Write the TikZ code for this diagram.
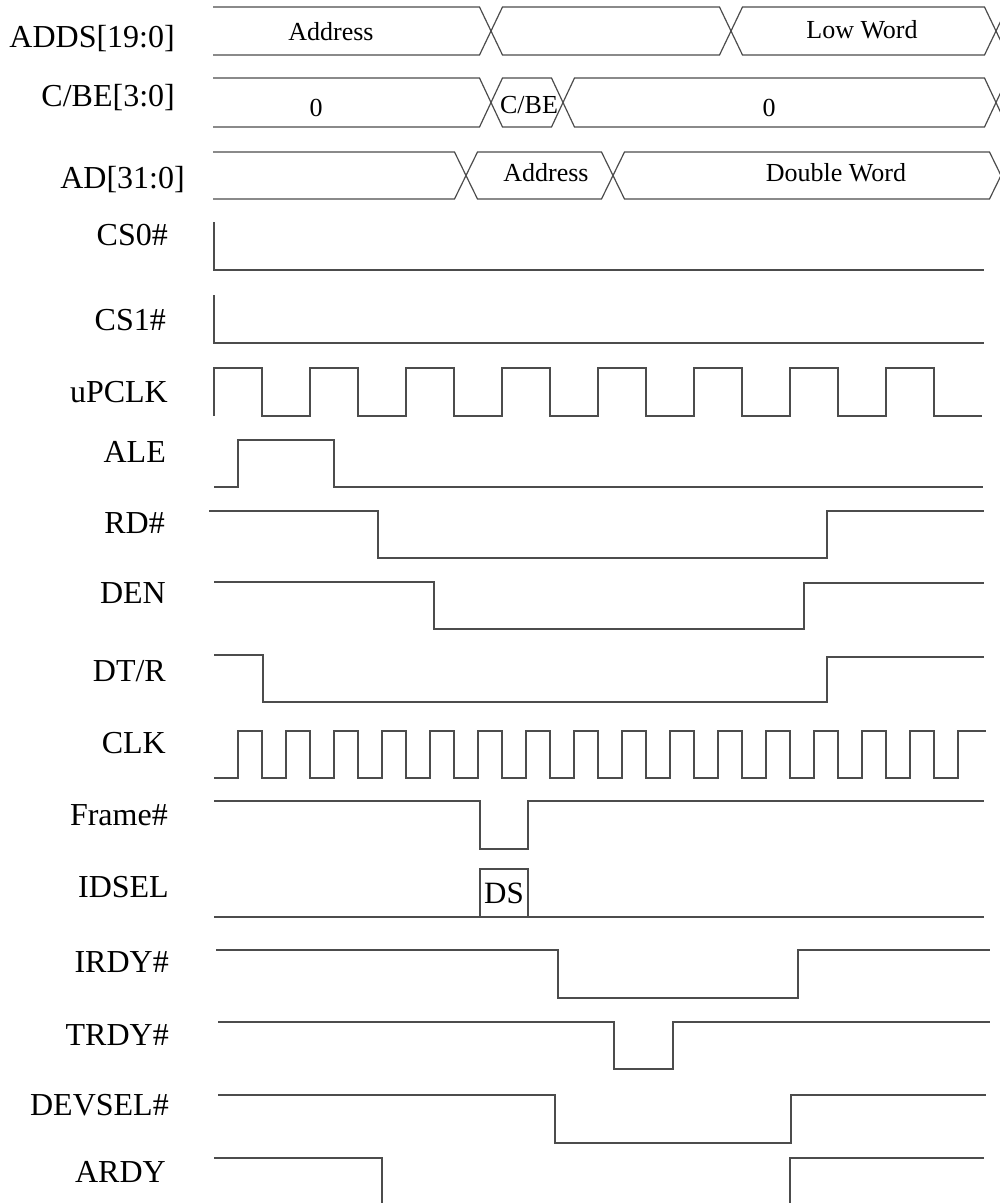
\documentclass[tikz,border=0pt]{standalone}
\usepackage{fontspec}
\setmainfont{Liberation Serif}
\begin{document}
\begin{tikzpicture}[x=1pt,y=-1pt,
  sig/.style={draw=black!70, line width=1.2pt, line join=miter},
  lbl/.style={anchor=base east, inner sep=0pt, font=\fontsize{32}{36}\selectfont},
  btxt/.style={anchor=base, inner sep=0pt, font=\fontsize{26}{30}\selectfont}]
\useasboundingbox (0,0) rectangle (1000,1203);
\clip (0,0) rectangle (1000,1203);

% ---- labels ----
\node[lbl] (lADDS) at (175,47)  {ADDS[19:0]};
\node[lbl] (lCBE)  at (175,106) {C/BE[3:0]};
\node[lbl] (lAD)   at (185,188) {AD[31:0]};
\node[lbl] (lCS0)  at (168,245) {CS0\#};
\node[lbl] (lCS1)  at (166,330) {CS1\#};
\node[lbl] (lUP)   at (168,402) {uPCLK};
\node[lbl] (lALE)  at (166,462) {ALE};
\node[lbl] (lRD)   at (165,533) {RD\#};
\node[lbl] (lDEN)  at (166,603) {DEN};
\node[lbl] (lDTR)  at (166,681) {DT/R};
\node[lbl] (lCLK)  at (166,753) {CLK};
\node[lbl] (lFR)   at (168,825) {Frame\#};
\node[lbl] (lID)   at (169,897) {IDSEL};
\node[lbl] (lIR)   at (169,972) {IRDY\#};
\node[lbl] (lTR)   at (169,1045) {TRDY\#};
\node[lbl] (lDEV)  at (169,1115) {DEVSEL\#};
\node[lbl] (lAR)   at (166,1182) {ARDY};

% ---- bus ADDS[19:0] ----
\draw[sig] (213,7) -- (479.5,7) -- (502.5,55) -- (719.5,55) -- (742.5,7) -- (984.5,7) -- (1007.5,55);
\draw[sig] (213,55) -- (479.5,55) -- (502.5,7) -- (719.5,7) -- (742.5,55) -- (984.5,55) -- (1007.5,7);
\node[btxt] (tA1) at (331,40) {Address};
\node[btxt] (tA2) at (862,38) {Low Word};

% ---- bus C/BE[3:0] ----
\draw[sig] (213,78) -- (479.5,78) -- (502.5,127) -- (551.5,127) -- (574.5,78) -- (984.5,78) -- (1007.5,127);
\draw[sig] (213,127) -- (479.5,127) -- (502.5,78) -- (551.5,78) -- (574.5,127) -- (984.5,127) -- (1007.5,78);
\node[btxt] (tC1) at (316,116) {0};
\node[btxt] (tC2) at (529,113) {C/BE};
\node[btxt] (tC3) at (769,116) {0};

% ---- bus AD[31:0] ----
\draw[sig] (213,152) -- (454.5,152) -- (477.5,199) -- (601.5,199) -- (624.5,152) -- (989.5,152) -- (1012.5,199);
\draw[sig] (213,199) -- (454.5,199) -- (477.5,152) -- (601.5,152) -- (624.5,199) -- (989.5,199) -- (1012.5,152);
\node[btxt] (tD1) at (546,181) {Address};
\node[btxt] (tD2) at (836,181) {Double Word};

% ---- CS0#, CS1# ----
\draw[sig] (214,222) -- (214,270) -- (984,270);
\draw[sig] (214,295) -- (214,343) -- (984,343);

% ---- uPCLK ----
\draw[sig] (214,416) -- (214,368)
  foreach \k in {1,...,7} { -- ++(48,0) -- ++(0,48) -- ++(48,0) -- ++(0,-48) }
  -- ++(48,0) -- ++(0,48) -- ++(48,0);

% ---- ALE ----
\draw[sig] (214,487) -- (238,487) -- (238,440) -- (334,440) -- (334,487) -- (983,487);

% ---- RD# ----
\draw[sig] (209,511) -- (378,511) -- (378,558) -- (827,558) -- (827,511) -- (984,511);

% ---- DEN ----
\draw[sig] (214,582) -- (434,582) -- (434,629) -- (804,629) -- (804,583) -- (984,583);

% ---- DT/R ----
\draw[sig] (214,655) -- (263,655) -- (263,702) -- (827,702) -- (827,657) -- (984,657);

% ---- CLK ----
\draw[sig] (214,778) -- ++(24,0)
  foreach \k in {1,...,15} { -- ++(0,-47) -- ++(24,0) -- ++(0,47) -- ++(24,0) }
  -- ++(0,-47) -- ++(28,0);

% ---- Frame# ----
\draw[sig] (214,801) -- (480,801) -- (480,849) -- (528,849) -- (528,801) -- (984,801);

% ---- IDSEL ----
\draw[sig] (214,917) -- (984,917);
\draw[sig] (480,917) -- (480,869) -- (528,869) -- (528,917);
\node[anchor=base, inner sep=0pt, font=\fontsize{31}{34}\selectfont] (tDS) at (504,903) {DS};

% ---- IRDY# ----
\draw[sig] (216,950) -- (558,950) -- (558,998) -- (798,998) -- (798,950) -- (990,950);

% ---- TRDY# ----
\draw[sig] (218,1022) -- (614,1022) -- (614,1069) -- (673,1069) -- (673,1022) -- (990,1022);

% ---- DEVSEL# ----
\draw[sig] (218,1095) -- (555,1095) -- (555,1143) -- (791,1143) -- (791,1095) -- (986,1095);

% ---- ARDY ----
\draw[sig] (214,1158) -- (382,1158) -- (382,1210);
\draw[sig] (790,1210) -- (790,1158) -- (984,1158);
\end{tikzpicture}
\end{document}
